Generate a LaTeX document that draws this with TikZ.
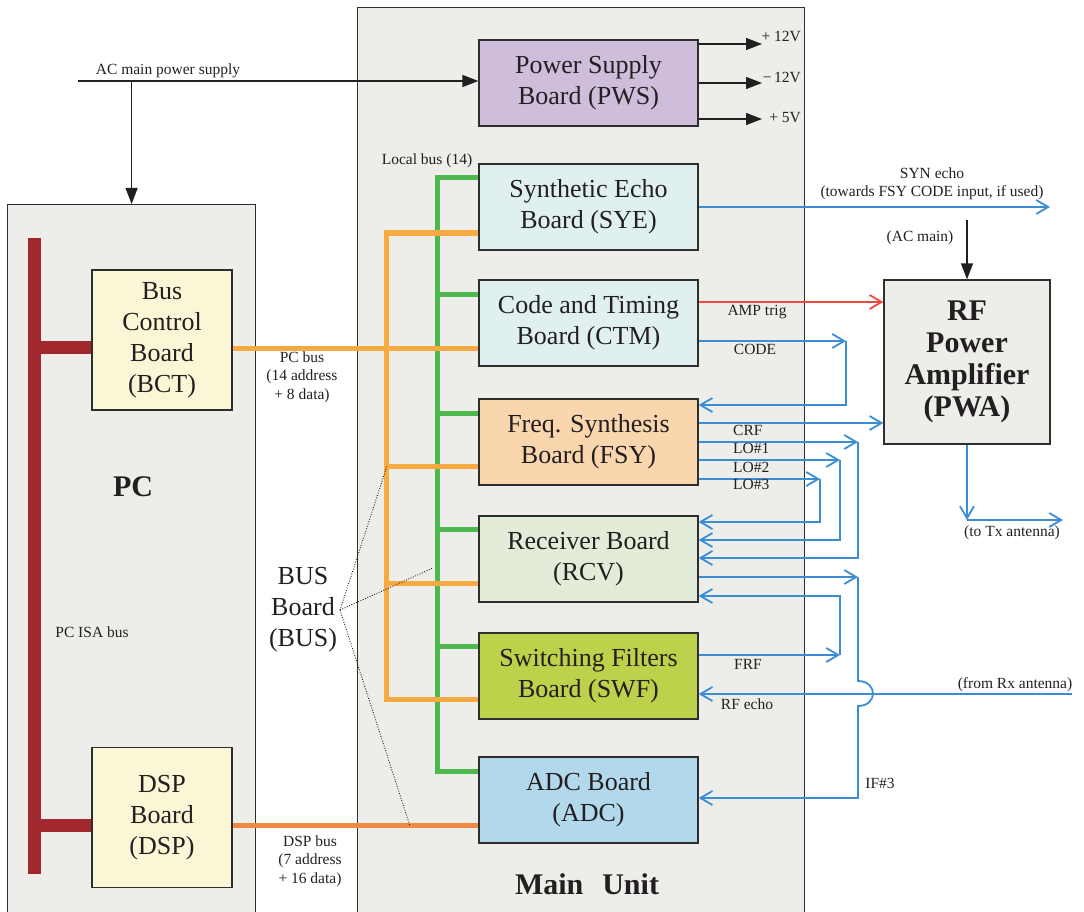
\documentclass[tikz,border=0pt]{standalone}
\usepackage{fontspec}
\setmainfont{Liberation Serif}
\usetikzlibrary{arrows.meta}
\definecolor{boxgray}{HTML}{EDEDE9}
\definecolor{edgec}{HTML}{2E2E2E}
\definecolor{textc}{HTML}{231F20}
\definecolor{pwsc}{HTML}{CEBEDC}
\definecolor{syec}{HTML}{E0F0F0}
\definecolor{fsyc}{HTML}{FAD6AE}
\definecolor{rcvc}{HTML}{E2ECD8}
\definecolor{swfc}{HTML}{BDD24A}
\definecolor{adcc}{HTML}{B2D9EB}
\definecolor{pcbc}{HTML}{FBF6D6}
\definecolor{isac}{HTML}{A1282E}
\definecolor{greenbus}{HTML}{4DB84E}
\definecolor{orangebus}{HTML}{F9AA40}
\definecolor{dspbus}{HTML}{F28841}
\definecolor{sigblue}{HTML}{3B8ED6}
\definecolor{sigred}{HTML}{EE4B3E}
\newcommand\bigtxt{\fontsize{26}{31}\selectfont}
\newcommand\smalltxt{\fontsize{15.5}{18.3}\selectfont}
\newcommand\boldtxt{\fontsize{30}{32}\selectfont\bfseries}
\begin{document}
\begin{tikzpicture}[x=1pt,y=-1pt,
  container/.style={draw=edgec, line width=1.2pt, fill=boxgray, inner sep=0pt},
  board/.style={draw=edgec, line width=1.3pt, minimum width=219pt, minimum height=86pt, align=center, font=\bigtxt, inner sep=0pt, text=textc},
  pcboard/.style={draw=edgec, line width=1.3pt, fill=pcbc, minimum width=140pt, minimum height=140pt, align=center, font=\bigtxt, inner sep=0pt, text=textc},
  lbl/.style={font=\smalltxt, align=center, inner sep=0pt, text=textc},
  blk/.style={draw=textc, line width=1.3pt},
  blkarr/.style={-{Triangle[length=16pt,width=12pt]}},
  sig/.style={draw=sigblue, line width=1.8pt},
  sigarr/.style={-{Straight Barb[length=12pt,width=14pt]}},
  gbus/.style={draw=greenbus, line width=5pt},
  obus/.style={draw=orangebus, line width=5pt},
  leader/.style={draw=textc, line width=0.9pt, dash pattern=on 0.9pt off 1.6pt},
  line join=miter]
\useasboundingbox (0,0) rectangle (1084,912);

% containers
\node[container, minimum width=248pt, minimum height=740pt, anchor=north west] (pc) at (7,204) {};
\node[container, minimum width=447pt, minimum height=930pt, anchor=north west] (main) at (357,7) {};

% boards
\node[board, fill=pwsc] (pws) at (588.5,83) {Power Supply\\Board (PWS)};
\node[board, fill=syec] (sye) at (588.5,207) {Synthetic Echo\\Board (SYE)};
\node[board, fill=syec] (ctm) at (588.5,323) {Code and Timing\\Board (CTM)};
\node[board, fill=fsyc] (fsy) at (588.5,442) {Freq. Synthesis\\Board (FSY)};
\node[board, fill=rcvc] (rcv) at (588.5,559) {Receiver Board\\(RCV)};
\node[board, fill=swfc] (swf) at (588.5,676) {Switching Filters\\Board (SWF)};
\node[board, fill=adcc] (adc) at (588.5,800) {ADC Board\\(ADC)};

\node[pcboard] (bct) at (162,340) {Bus\\Control\\Board\\(BCT)};
\node[pcboard] (dsp) at (162,817.5) {DSP\\Board\\(DSP)};

\node[draw=edgec, line width=1.3pt, fill=boxgray, minimum width=166pt, minimum height=164pt, align=center, inner sep=0pt, font=\boldtxt, text=textc] (pwa) at (967,362) {RF\\Power\\Amplifier\\(PWA)};

% titles
\node[font=\boldtxt, text=textc] (pctitle) at (133,487) {PC};
\node[font=\boldtxt, text=textc] (maintitle) at (587,884) {Main\hspace{19pt}Unit};
\node[lbl] (isalbl) at (92,632) {PC ISA bus};
\node[font=\bigtxt, align=center, inner sep=0pt, text=textc] (buslbl) at (303,610) {BUS\\Board\\(BUS)};
\node[lbl] (locallbl) at (427,161) {Local bus (14)};
\node[lbl] (pcbuslbl) at (302,377) {PC bus\\(14 address\\+ 8 data)};
\node[lbl] (dspbuslbl) at (310,861) {DSP bus\\(7 address\\+ 16 data)};

% ISA bus
\draw[draw=isac, line width=13pt] (34,238) -- (34,874);
\draw[draw=isac, line width=13pt] (34,347) -- (bct.west |- 0,347);
\draw[draw=isac, line width=13pt] (34,825) -- (dsp.west |- 0,825);

% local green bus
\coordinate (gtop) at (437,178);
\coordinate (gbot) at (437,771);
\draw[gbus] (sye.west |- gtop) -- (gtop) -- (gbot) -- (adc.west |- gbot);
\draw[gbus] (437,294) -- (ctm.west |- 0,294);
\draw[gbus] (437,413) -- (fsy.west |- 0,413);
\draw[gbus] (437,529) -- (rcv.west |- 0,529);
\draw[gbus] (437,646) -- (swf.west |- 0,646);

% orange bus
\coordinate (otop) at (386,233);
\coordinate (obot) at (386,699);
\draw[obus] (sye.west |- otop) -- (otop) -- (obot) -- (swf.west |- obot);
\draw[obus] (bct.east |- 0,348) -- (ctm.west |- 0,348);
\draw[obus] (386,466) -- (fsy.west |- 0,466);
\draw[obus] (386,583) -- (rcv.west |- 0,583);
\draw[draw=dspbus, line width=5pt] (dsp.east |- 0,825) -- (adc.west |- 0,825);

% dotted leaders
\coordinate (bl) at (340,610);
\draw[leader] (bl) -- (387,466);
\draw[leader] (bl) -- (433,568);
\draw[leader] (bl) -- (410,826);

% power
\coordinate (acstart) at (78,81);
\coordinate (acbranch) at (pc.north |- acstart);
\draw[blk, blkarr] (acstart) -- (pws.west |- acstart);
\draw[blk, blkarr] (acbranch) -- (pc.north);
\node[lbl] (aclbl) at (168,71) {AC main power supply};

\coordinate (p1) at (762,44);
\coordinate (p2) at (762,83);
\coordinate (p3) at (762,119);
\draw[blk, blkarr] (pws.east |- p1) -- (p1);
\draw[blk, blkarr] (pws.east |- p2) -- (p2);
\draw[blk, blkarr] (pws.east |- p3) -- (p3);
\node[lbl, anchor=east] (v1) at (801,36) {+ 12V};
\node[lbl, anchor=east] (v2) at (801,77) {−\,12V};
\node[lbl, anchor=east] (v3) at (801,118) {+ 5V};

% SYN echo
\coordinate (synend) at (1050,207);
\draw[sig, sigarr] (sye.east |- synend) -- (synend);
\node[lbl] (synlbl) at (932,184) {SYN echo\\(towards FSY CODE input, if used)};

% AC main to PWA
\coordinate (acpwa) at (pwa.north |- 0,220);
\draw[blk, blkarr] (acpwa) -- (pwa.north);
\node[lbl] (acmainlbl) at (920,238) {(AC main)};

% AMP trig
\draw[draw=sigred, line width=1.8pt, sigarr] (ctm.east |- 0,302) -- (pwa.west |- 0,302);
\node[lbl] (amplbl) at (757,312) {AMP trig};

% CODE
\coordinate (codec) at (846,341);
\draw[sig, sigarr] (ctm.east |- codec) -- (codec);
\draw[sig, sigarr] (codec) -- (846,405) -- (fsy.east |- 0,405);
\node[lbl] (codelbl) at (755,349) {CODE};

% CRF
\draw[sig, sigarr] (fsy.east |- 0,423) -- (pwa.west |- 0,423);

% LO#1..3
\coordinate (lo1) at (858,442);
\coordinate (lo2) at (840,460);
\coordinate (lo3) at (820,479);
\draw[sig, sigarr] (fsy.east |- lo1) -- (lo1);
\draw[sig, sigarr] (lo1) -- (858,558) -- (rcv.east |- 0,558);
\draw[sig, sigarr] (fsy.east |- lo2) -- (lo2);
\draw[sig, sigarr] (lo2) -- (840,540) -- (rcv.east |- 0,540);
\draw[sig, sigarr] (fsy.east |- lo3) -- (lo3);
\draw[sig, sigarr] (lo3) -- (820,522) -- (rcv.east |- 0,522);
\node[lbl, anchor=west] (crflbl) at (733,430) {CRF};
\node[lbl, anchor=west] (lo1lbl) at (733,448) {LO\#1};
\node[lbl, anchor=west] (lo2lbl) at (733,467) {LO\#2};
\node[lbl, anchor=west] (lo3lbl) at (733,484) {LO\#3};

% IF#3
\coordinate (ifc) at (858,577);
\draw[sig, sigarr] (rcv.east |- ifc) -- (ifc);
\draw[sig, sigarr] (ifc) -- (858,681) .. controls (878,681) and (878,706) .. (858,706) -- (858,798) -- (adc.east |- 0,798);
\node[lbl] (iflbl) at (880,783) {IF\#3};

% FRF
\coordinate (frfc) at (840,655);
\draw[sig, sigarr] (swf.east |- frfc) -- (frfc);
\draw[sig, sigarr] (frfc) -- (840,596) -- (rcv.east |- 0,596);
\node[lbl] (frflbl) at (748,664) {FRF};

% RF echo
\coordinate (rxant) at (1072,694);
\draw[sig, sigarr] (rxant) -- (swf.east |- rxant);
\node[lbl] (rxlbl) at (1015,685) {(from Rx antenna)};
\node[lbl] (rfecholbl) at (747,704) {RF echo};

% PWA output
\coordinate (txc) at (pwa.south |- 0,520);
\coordinate (txend) at (1063,520);
\draw[sig, sigarr] (pwa.south) -- (txc);
\draw[sig, sigarr] (txc) -- (txend);
\node[lbl] (txlbl) at (1012,533) {(to Tx antenna)};
\end{tikzpicture}
\end{document}
